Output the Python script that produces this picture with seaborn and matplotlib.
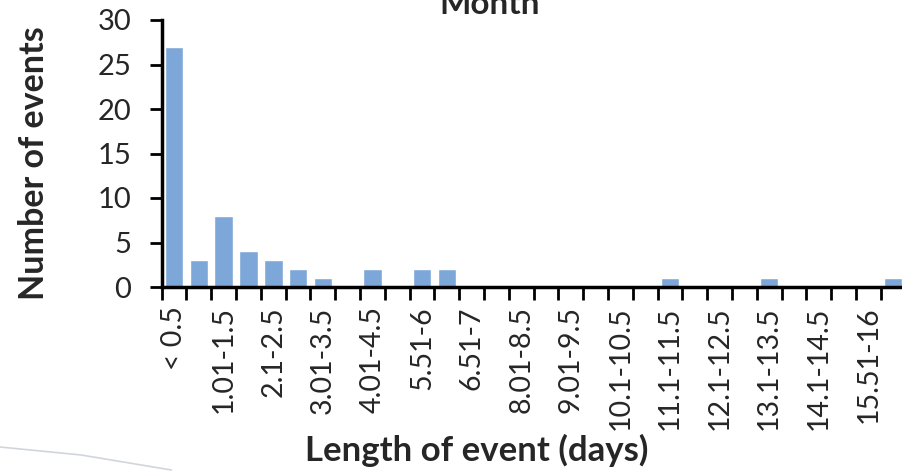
import matplotlib
matplotlib.use("Agg")
import matplotlib.pyplot as plt
from matplotlib.lines import Line2D
import seaborn as sns
import pandas as pd

# Event-length bins (days) and number of events in each bin
bins = [
    "< 0.5", "0.51-1", "1.01-1.5", "1.51-2", "2.1-2.5", "2.51-3",
    "3.01-3.5", "3.51-4", "4.01-4.5", "4.51-5.5", "5.51-6", "6.01-6.5",
    "6.51-7", "7.01-8", "8.01-8.5", "8.51-9", "9.01-9.5", "9.51-10",
    "10.1-10.5", "10.51-11", "11.1-11.5", "11.51-12", "12.1-12.5", "12.51-13",
    "13.1-13.5", "13.51-14", "14.1-14.5", "14.51-15.5", "15.51-16", "> 16",
]
events = [27, 3, 8, 4, 3, 2, 1, 0, 2, 0, 2, 2, 0, 0, 0, 0, 0, 0,
          0, 0, 1, 0, 0, 0, 1, 0, 0, 0, 0, 1]
title = "Month"
x_title = "Length of event (days)"
y_title = "Number of events"
y_ticks = [0, 5, 10, 15, 20, 25, 30]

sns.set_theme(style="white")
plt.rcParams["font.family"] = ["Lato", "DejaVu Sans"]

df = pd.DataFrame({"bin": bins, "events": events})

fig = plt.figure(figsize=(9.02, 4.72), dpi=100)
ax = fig.add_axes([161.7 / 902, 1 - 287 / 472, (905.5 - 161.7) / 902, (287 - 20) / 472])

sns.barplot(data=df, x="bin", y="events", order=bins, color="#7DA7D8",
            saturation=1, width=0.75, ax=ax)

ax.set_xlim(-0.5, len(bins) - 0.5)
ax.set_ylim(0, 30)
ax.set_yticks(y_ticks)
ax.tick_params(axis="y", labelsize=21, length=9, width=2, color="black",
               direction="out", left=True, pad=13)

# Tick marks sit between categories; labels on every other bin
ax.set_xticks([i - 0.5 for i in range(len(bins) + 1)])
ax.set_xticklabels([])
ax.set_xticks(list(range(0, len(bins), 2)), minor=True)
ax.set_xticklabels([bins[i] for i in range(0, len(bins), 2)], minor=True,
                   rotation=90, fontsize=20.5)
ax.tick_params(axis="x", which="major", length=9, width=2, color="black",
               direction="out", bottom=True)
ax.tick_params(axis="x", which="minor", length=0, pad=14, bottom=True)

for side in ("top", "right"):
    ax.spines[side].set_visible(False)
for side in ("left", "bottom"):
    ax.spines[side].set_color("black")
    ax.spines[side].set_linewidth(2.5)

ax.set_xlabel("")
ax.set_ylabel("")
fig.text(0.038, 1 - 163 / 472, y_title, rotation=90, ha="center", va="center",
         fontsize=24.5, fontweight="bold")
fig.text(477 / 902, 1 - 450 / 472, x_title, ha="center", va="center",
         fontsize=25, fontweight="bold")
fig.text(490 / 902, 1 - 5 / 472, title, ha="center", va="center",
         fontsize=24, fontweight="bold")

# Faint decorative swoosh in the lower-left corner
fig.add_artist(Line2D([0, 0.09, 0.19], [1 - 447 / 472, 1 - 455 / 472, 1 - 470 / 472],
                      transform=fig.transFigure, color="#aab4c0", lw=1.2, alpha=0.55))

fig.savefig("out.png", dpi=100)
